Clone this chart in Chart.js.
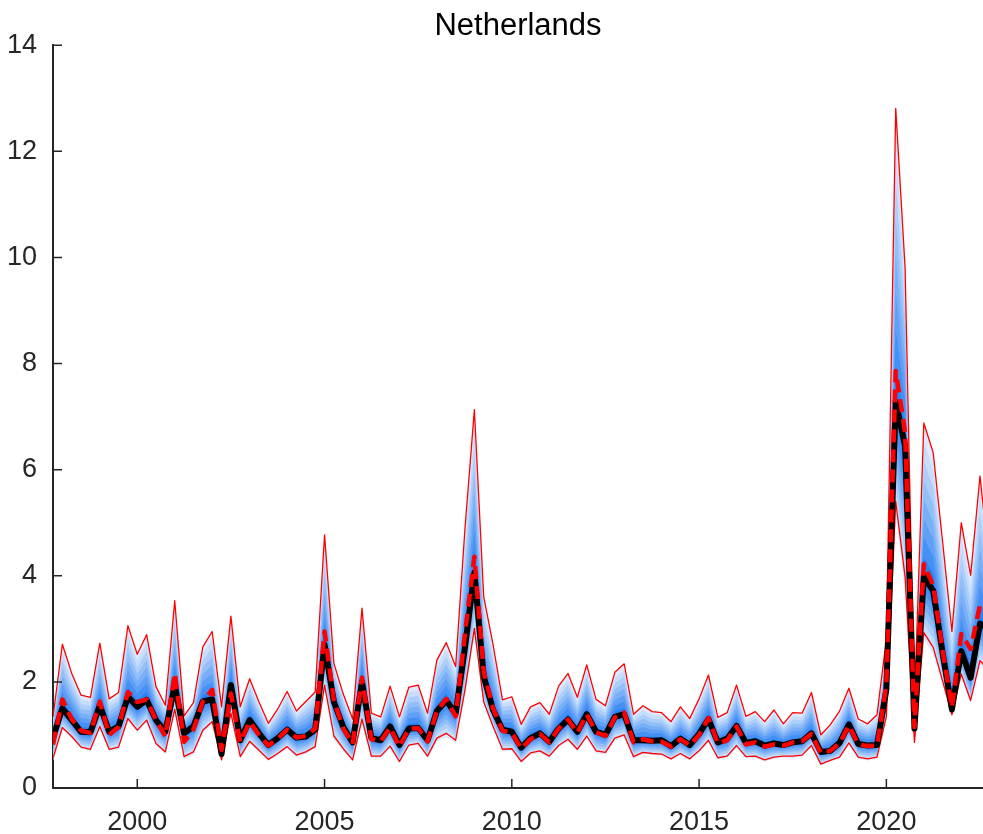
<!DOCTYPE html>
<html>
<head>
<meta charset="utf-8">
<title>Netherlands</title>
<script src="https://cdn.jsdelivr.net/npm/chart.js@4/dist/chart.umd.min.js"></script>
<style>
  html, body { margin: 0; padding: 0; background: #ffffff; }
  canvas { display: block; }
</style>
</head>
<body>
<canvas id="chart" width="983" height="834"></canvas>
<script>
// Quarterly observation dates (decimal years)
const quarters = [
  1997.75,
  1998.00, 1998.25, 1998.50, 1998.75,
  1999.00, 1999.25, 1999.50, 1999.75,
  2000.00, 2000.25, 2000.50, 2000.75,
  2001.00, 2001.25, 2001.50, 2001.75,
  2002.00, 2002.25, 2002.50, 2002.75,
  2003.00, 2003.25, 2003.50, 2003.75,
  2004.00, 2004.25, 2004.50, 2004.75,
  2005.00, 2005.25, 2005.50, 2005.75,
  2006.00, 2006.25, 2006.50, 2006.75,
  2007.00, 2007.25, 2007.50, 2007.75,
  2008.00, 2008.25, 2008.50, 2008.75,
  2009.00, 2009.25, 2009.50, 2009.75,
  2010.00, 2010.25, 2010.50, 2010.75,
  2011.00, 2011.25, 2011.50, 2011.75,
  2012.00, 2012.25, 2012.50, 2012.75,
  2013.00, 2013.25, 2013.50, 2013.75,
  2014.00, 2014.25, 2014.50, 2014.75,
  2015.00, 2015.25, 2015.50, 2015.75,
  2016.00, 2016.25, 2016.50, 2016.75,
  2017.00, 2017.25, 2017.50, 2017.75,
  2018.00, 2018.25, 2018.50, 2018.75,
  2019.00, 2019.25, 2019.50, 2019.75,
  2020.00, 2020.25, 2020.50, 2020.75,
  2021.00, 2021.25, 2021.50, 2021.75,
  2022.00, 2022.25, 2022.50, 2022.75
];

// Upper bound of the predictive distribution
const upperBound = [
  1.34,
  2.71, 2.16, 1.75, 1.71,
  2.73, 1.68, 1.80, 3.06,
  2.52, 2.89, 1.91, 1.56,
  3.53, 1.36, 1.61, 2.66,
  2.95, 1.53, 3.24, 1.53,
  2.06, 1.62, 1.22, 1.49,
  1.82, 1.45, 1.63, 1.81,
  4.77, 2.35, 1.77, 1.30,
  3.39, 1.41, 1.34, 1.92,
  1.34, 1.90, 1.94, 1.41,
  2.41, 2.74, 2.29, 4.90,
  7.13, 3.60, 2.70, 1.66,
  1.72, 1.20, 1.53, 1.61,
  1.39, 1.92, 2.16, 1.71,
  2.32, 1.67, 1.55, 2.18,
  2.34, 1.39, 1.55, 1.44,
  1.42, 1.25, 1.53, 1.31,
  1.68, 2.13, 1.33, 1.42,
  1.94, 1.35, 1.44, 1.25,
  1.47, 1.21, 1.42, 1.41,
  1.80, 1.00, 1.19, 1.45,
  1.88, 1.30, 1.21, 1.38,
  2.80, 12.81, 9.80, 1.60,
  6.88, 6.32, 4.65, 2.95,
  5.00, 4.01, 5.88, 4.20
];

// Lower bound of the predictive distribution
const lowerBound = [
  0.56,
  1.14, 0.97, 0.77, 0.73,
  1.16, 0.73, 0.77, 1.31,
  1.09, 1.28, 0.84, 0.68,
  1.48, 0.59, 0.68, 1.09,
  1.25, 0.53, 1.41, 0.59,
  0.88, 0.71, 0.54, 0.65,
  0.78, 0.62, 0.68, 0.78,
  1.94, 0.98, 0.74, 0.53,
  1.30, 0.60, 0.60, 0.79,
  0.50, 0.81, 0.84, 0.60,
  0.94, 1.03, 0.90, 1.85,
  3.01, 1.62, 1.16, 0.73,
  0.74, 0.50, 0.66, 0.70,
  0.60, 0.80, 0.92, 0.73,
  0.98, 0.70, 0.67, 0.94,
  1.00, 0.59, 0.67, 0.65,
  0.64, 0.55, 0.65, 0.55,
  0.70, 0.90, 0.57, 0.60,
  0.80, 0.59, 0.60, 0.53,
  0.58, 0.60, 0.60, 0.62,
  0.80, 0.45, 0.52, 0.58,
  0.85, 0.58, 0.55, 0.58,
  1.35, 5.40, 3.98, 0.86,
  2.93, 2.65, 2.02, 1.38,
  2.15, 1.65, 2.40, 2.20
];

// Median of the predictive distribution
const medianPath = [
  0.95,
  1.50, 1.28, 1.06, 1.05,
  1.56, 1.06, 1.16, 1.72,
  1.53, 1.66, 1.28, 1.06,
  1.94, 1.03, 1.16, 1.63,
  1.67, 0.64, 1.94, 0.90,
  1.28, 1.03, 0.81, 0.94,
  1.10, 0.95, 0.97, 1.10,
  2.70, 1.62, 1.15, 0.86,
  2.00, 0.94, 0.90, 1.16,
  0.81, 1.12, 1.13, 0.90,
  1.45, 1.65, 1.40, 2.65,
  4.06, 2.10, 1.47, 1.10,
  1.06, 0.76, 0.94, 1.03,
  0.87, 1.12, 1.29, 1.06,
  1.39, 1.06, 1.00, 1.34,
  1.39, 0.90, 0.90, 0.89,
  0.90, 0.79, 0.93, 0.81,
  1.02, 1.30, 0.86, 0.93,
  1.17, 0.85, 0.88, 0.80,
  0.84, 0.81, 0.86, 0.88,
  1.03, 0.68, 0.70, 0.85,
  1.20, 0.83, 0.80, 0.81,
  1.85, 7.28, 6.45, 1.12,
  3.98, 3.72, 2.55, 1.48,
  2.58, 2.08, 3.10, 3.00
];

// Realised series
const realised = [
  0.82,
  1.67, 1.30, 1.08, 1.04,
  1.63, 1.00, 1.15, 1.81,
  1.62, 1.67, 1.28, 0.97,
  2.16, 0.87, 1.10, 1.63,
  1.85, 0.72, 1.78, 0.86,
  1.25, 1.00, 0.80, 0.93,
  1.10, 0.95, 0.98, 1.12,
  2.95, 1.65, 1.12, 0.83,
  2.08, 0.92, 0.88, 1.14,
  0.78, 1.12, 1.13, 0.88,
  1.45, 1.68, 1.35, 2.92,
  4.36, 2.20, 1.50, 1.08,
  1.04, 0.74, 0.92, 1.02,
  0.86, 1.12, 1.29, 1.04,
  1.39, 1.05, 0.98, 1.33,
  1.42, 0.86, 0.92, 0.88,
  0.87, 0.78, 0.92, 0.80,
  1.00, 1.32, 0.84, 0.90,
  1.16, 0.82, 0.86, 0.78,
  0.82, 0.80, 0.86, 0.88,
  1.02, 0.66, 0.70, 0.84,
  1.18, 0.82, 0.79, 0.80,
  1.95, 7.86, 6.70, 1.15,
  4.22, 3.82, 2.60, 1.52,
  2.90, 2.62, 3.45, 3.30
];

// Axis ticks
const xTickValues = [2000, 2005, 2010, 2015, 2020];
const yTickValues = [0, 2, 4, 6, 8, 10, 12, 14];

// Fan shading: colours from the innermost band outwards
const fanColors = ['#2a80f3', '#4590f4', '#5f9ff5', '#79aff7', '#93bff8', '#adcefa', '#c6ddfb', '#dde9fd'];
const fanLowerStretch = 1.12; // lower edge of the fan reaches a little beyond the lower bound

const AXIS_COLOR = '#262626';
const FONT_FAMILY = '"Liberation Sans", Arial, Helvetica, sans-serif';

const toPoints = arr => quarters.map((q, i) => ({ x: q, y: arr[i] }));

const datasets = [
  { label: 'Realised', data: toPoints(realised), borderColor: '#ff0000', borderWidth: 4.5,
    borderDash: [13, 7], order: 1 },
  { label: 'Median', data: toPoints(medianPath), borderColor: '#000000', borderWidth: 6, order: 2 },
  { label: 'Upper', data: toPoints(upperBound), borderColor: '#ff0000', borderWidth: 1.3, order: 3 },
  { label: 'Lower', data: toPoints(lowerBound), borderColor: '#ff0000', borderWidth: 1.3, order: 3 }
];

// Nested fan bands, outermost drawn first so the darker inner bands sit on top
const nLevels = fanColors.length;
for (let k = nLevels; k >= 1; k--) {
  const f = k / nLevels;
  const lowEdge = medianPath.map((m, i) => m - f * fanLowerStretch * (m - lowerBound[i]));
  const highEdge = medianPath.map((m, i) => m + f * (upperBound[i] - m));
  const lowIndex = datasets.length;
  datasets.push({ label: 'fan-low-' + k, data: toPoints(lowEdge), borderWidth: 0,
    borderColor: 'rgba(0,0,0,0)', fill: false, order: 10 + k });
  datasets.push({ label: 'fan-high-' + k, data: toPoints(highEdge), borderWidth: 0,
    borderColor: 'rgba(0,0,0,0)', backgroundColor: fanColors[k - 1],
    fill: { target: lowIndex }, order: 10 + k });
}

// Short tick marks pointing into the plot area
const inwardTicks = {
  id: 'inwardTicks',
  afterDatasetsDraw(chart) {
    const { ctx, chartArea: a, scales: { x, y } } = chart;
    ctx.save();
    ctx.strokeStyle = AXIS_COLOR;
    ctx.lineWidth = 1.5;
    ctx.beginPath();
    y.ticks.forEach(t => {
      if (t.value === 0) return;
      const py = y.getPixelForValue(t.value);
      ctx.moveTo(a.left, py);
      ctx.lineTo(a.left + 9, py);
    });
    x.ticks.forEach(t => {
      const px = x.getPixelForValue(t.value);
      ctx.moveTo(px, a.bottom);
      ctx.lineTo(px, a.bottom - 9);
    });
    ctx.stroke();
    ctx.restore();
  }
};

// Centre the title over the plot area rather than the whole canvas
const titleOverPlot = {
  id: 'titleOverPlot',
  afterLayout(chart) {
    const t = chart.titleBlock;
    if (t) {
      t.left = chart.chartArea.left;
      t.right = chart.chartArea.right;
    }
  }
};

new Chart(document.getElementById('chart'), {
  type: 'line',
  data: { datasets },
  plugins: [inwardTicks, titleOverPlot],
  options: {
    responsive: false,
    animation: false,
    devicePixelRatio: 1,
    events: [],
    layout: { padding: 0 },
    elements: {
      point: { radius: 0 },
      line: { tension: 0, borderJoinStyle: 'round', borderCapStyle: 'butt' }
    },
    plugins: {
      legend: { display: false },
      tooltip: { enabled: false },
      title: {
        display: true,
        text: 'Netherlands',
        color: '#000000',
        font: { family: FONT_FAMILY, size: 31, weight: 'normal' },
        padding: { top: 8, bottom: 0 }
      }
    },
    scales: {
      x: {
        type: 'linear',
        min: 1997.75,
        max: 2022.58,
        grid: { display: false, drawTicks: false },
        border: { display: true, color: AXIS_COLOR, width: 2 },
        ticks: {
          color: AXIS_COLOR,
          font: { family: FONT_FAMILY, size: 27 },
          padding: 18,
          maxRotation: 0,
          autoSkip: false,
          callback: v => String(v)
        },
        afterBuildTicks: scale => { scale.ticks = xTickValues.map(v => ({ value: v })); },
        afterFit: scale => { scale.height = 46; }
      },
      y: {
        type: 'linear',
        min: 0,
        max: 14,
        grid: { display: false, drawTicks: false },
        border: { display: true, color: AXIS_COLOR, width: 2 },
        ticks: {
          color: AXIS_COLOR,
          font: { family: FONT_FAMILY, size: 27 },
          padding: 16,
          autoSkip: false,
          callback: v => String(v)
        },
        afterBuildTicks: scale => { scale.ticks = yTickValues.map(v => ({ value: v })); },
        afterFit: scale => { scale.width = 53; }
      }
    }
  }
});
</script>
</body>
</html>
